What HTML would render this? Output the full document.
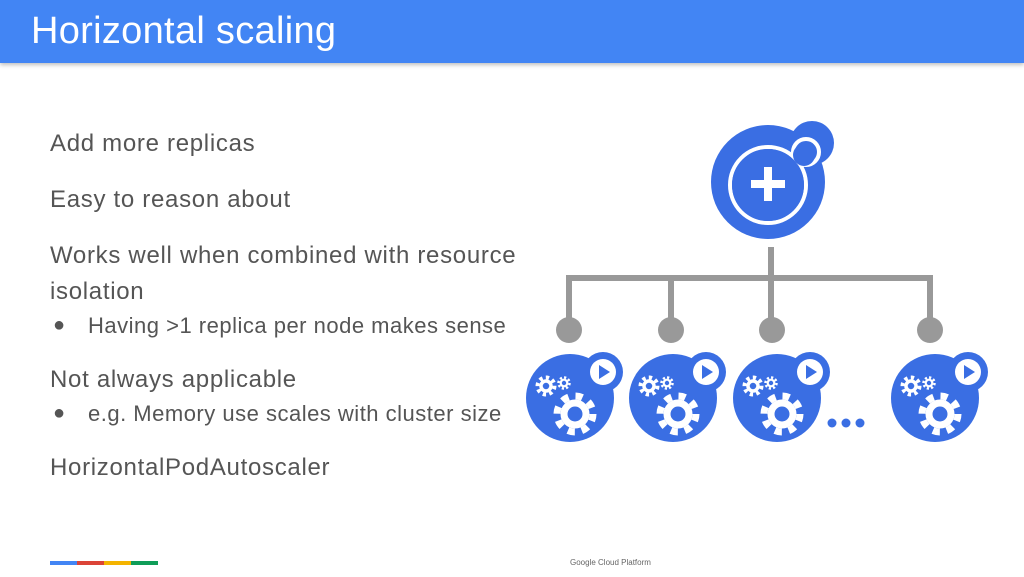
<!DOCTYPE html>
<html><head><meta charset="utf-8"><style>
body{margin:0;width:1024px;height:577px;background:#fff;position:relative;overflow:hidden;font-family:"Liberation Sans",sans-serif;}
.hdr{position:absolute;left:0;top:0;width:1024px;height:63px;background:#4285f4;box-shadow:0 2px 4px rgba(0,0,0,.25);}
.hdr span{position:absolute;left:31px;top:10px;color:#fff;font-size:38px;letter-spacing:0.3px;}
.t{position:absolute;color:#555;font-size:24px;letter-spacing:0.7px;white-space:nowrap;}
.b{position:absolute;color:#555;font-size:22px;letter-spacing:0.5px;white-space:nowrap;}
.b i{position:absolute;left:0;font-style:normal;font-size:20px;top:1px;}
</style></head><body>
<div class="hdr"><span>Horizontal scaling</span></div>
<div class="t" style="left:50px;top:130px">Add more replicas</div>
<div class="t" style="left:50px;top:186px">Easy to reason about</div>
<div class="t" style="left:50px;top:242px">Works well when combined with resource</div>
<div class="t" style="left:50px;top:278px">isolation</div>
<div class="b" style="left:53px;top:313px"><i>●</i><span style="margin-left:35px">Having &gt;1 replica per node makes sense</span></div>
<div class="t" style="left:50px;top:366px">Not always applicable</div>
<div class="b" style="left:53px;top:401px"><i>●</i><span style="margin-left:35px">e.g. Memory use scales with cluster size</span></div>
<div class="t" style="left:50px;top:454px">HorizontalPodAutoscaler</div>
<div style="position:absolute;left:50px;top:561px;width:27px;height:4px;background:#4285f4"></div>
<div style="position:absolute;left:77px;top:561px;width:27px;height:4px;background:#db4437"></div>
<div style="position:absolute;left:104px;top:561px;width:27px;height:4px;background:#f4b400"></div>
<div style="position:absolute;left:131px;top:561px;width:27px;height:4px;background:#0f9d58"></div>
<div style="position:absolute;left:570px;top:558px;font-size:8px;color:#666">Google Cloud Platform</div>
<svg width="1024" height="577" style="position:absolute;left:0;top:0">
<defs>
<g id="pod">
<circle cx="0" cy="0" r="44" fill="#3a6ee3"/>
<circle cx="33" cy="-26" r="20" fill="#3a6ee3"/>
<circle cx="33" cy="-26" r="13" fill="#fff"/>
<polygon points="29,-33 29,-19 40,-26" fill="#3a6ee3"/>
<circle cx="5" cy="16" r="18" fill="none" stroke="#fff" stroke-width="7" stroke-dasharray="7.1 7.1"/>
<circle cx="5" cy="16" r="11" fill="none" stroke="#fff" stroke-width="7"/>
<circle cx="-24" cy="-12" r="8.5" fill="none" stroke="#fff" stroke-width="4" stroke-dasharray="3.3 3.3"/>
<circle cx="-24" cy="-12" r="5" fill="none" stroke="#fff" stroke-width="3.5"/>
<circle cx="-6" cy="-15" r="5.5" fill="none" stroke="#fff" stroke-width="2.5" stroke-dasharray="2.2 2.1"/>
<circle cx="-6" cy="-15" r="3.3" fill="none" stroke="#fff" stroke-width="2.2"/>
</g>
</defs>
<circle cx="768" cy="182" r="57" fill="#3a6ee3"/>
<circle cx="812" cy="143" r="22" fill="#3a6ee3"/>
<circle cx="768" cy="185" r="38" fill="none" stroke="#fff" stroke-width="4"/>
<circle cx="806" cy="152" r="13" fill="#3a6ee3" stroke="#fff" stroke-width="4"/>
<circle cx="768" cy="185" r="36" fill="#3a6ee3"/>
<circle cx="804" cy="155" r="11" fill="#3a6ee3"/>
<rect x="751" y="180" width="34" height="8" fill="#fff"/>
<rect x="764" y="167" width="8" height="34" fill="#fff"/>
<g stroke="#999" stroke-width="6" fill="none">
<line x1="771" y1="247" x2="771" y2="318"/>
<polyline points="569,318 569,278 930,278 930,318"/>
<line x1="671" y1="278" x2="671" y2="318"/>
</g>
<g fill="#999">
<circle cx="569" cy="330" r="13"/><circle cx="671" cy="330" r="13"/><circle cx="772" cy="330" r="13"/><circle cx="930" cy="330" r="13"/>
</g>
<use href="#pod" x="570" y="398"/>
<use href="#pod" x="673" y="398"/>
<use href="#pod" x="777" y="398"/>
<use href="#pod" x="935" y="398"/>
<g fill="#3a6ee3"><circle cx="832" cy="423" r="4.5"/><circle cx="846" cy="423" r="4.5"/><circle cx="860" cy="423" r="4.5"/></g>
</svg>
</body></html>
